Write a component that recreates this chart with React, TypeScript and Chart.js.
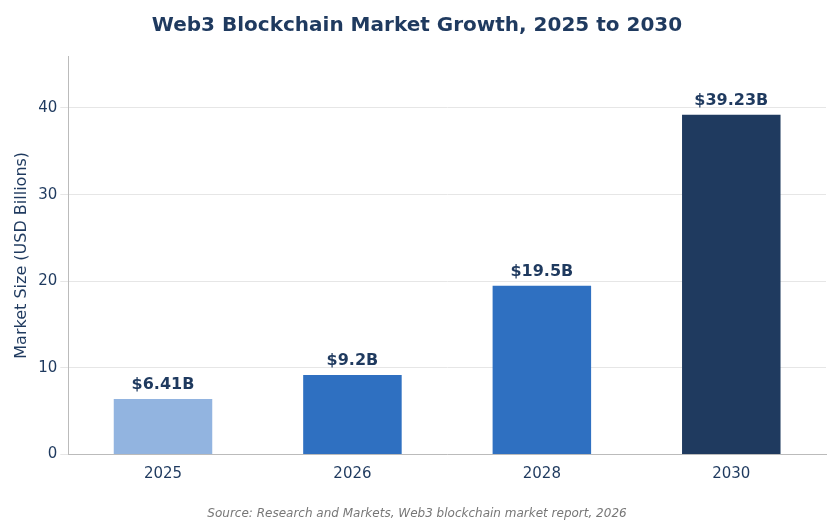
import React, { useEffect, useRef } from "react";
import { Chart, registerables } from "chart.js";
Chart.register(...registerables);

const categories = ["2025", "2026", "2028", "2030"];
const values = [6.41, 9.2, 19.5, 39.23];
const labels = ["$6.41B", "$9.2B", "$19.5B", "$39.23B"];
const colors = ["#92b4e0", "#2f70c1", "#2f70c1", "#1f3a5f"];

const FONT = "'DejaVu Sans', sans-serif";
const DARK = "#1f3a5f";

const labelPlugin = {
  id: "barLabels",
  afterDatasetsDraw(chart: any) {
    const ctx = chart.ctx;
    const meta = chart.getDatasetMeta(0);
    ctx.save();
    ctx.font = `bold 16px ${FONT}`;
    ctx.fillStyle = DARK;
    ctx.textAlign = "center";
    ctx.textBaseline = "bottom";
    meta.data.forEach((bar: any, i: number) => {
      ctx.fillText(labels[i], bar.x, bar.y - 6);
    });
    ctx.restore();
  },
};

export default function App() {
  const ref = useRef<HTMLCanvasElement>(null);
  useEffect(() => {
    document.body.style.margin = "0";
    const chart = new Chart(ref.current!, {
      type: "bar",
      data: {
        labels: categories,
        datasets: [{ data: values, backgroundColor: colors, barPercentage: 0.52, categoryPercentage: 1 }],
      },
      options: {
        animation: false,
        responsive: false,
        layout: { padding: { left: 8, right: 14, top: 4, bottom: 2 } },
        plugins: {
          legend: { display: false },
          tooltip: { enabled: false },
          title: {
            display: true,
            text: "Web3 Blockchain Market Growth, 2025 to 2030",
            color: DARK,
            font: { family: FONT, size: 20, weight: "bold" },
            padding: { top: 10, bottom: 18 },
          },
          subtitle: {
            display: true,
            position: "bottom",
            text: "Source: Research and Markets, Web3 blockchain market report, 2026",
            color: "#777777",
            font: { family: FONT, size: 12, style: "italic" },
            padding: { top: 20, bottom: 2 },
          },
        },
        scales: {
          x: {
            grid: { display: false },
            border: { color: "#bbbbbb" },
            ticks: { color: DARK, font: { family: FONT, size: 15 } },
          },
          y: {
            min: 0,
            max: 46,
            border: { color: "#bbbbbb" },
            grid: {
              color: (c: any) => (c.tick && c.tick.value % 10 === 0 ? "#e6e6e6" : "transparent"),
            },
            ticks: {
              stepSize: 10,
              color: DARK,
              font: { family: FONT, size: 15 },
              callback: (v: any) => (v % 10 === 0 ? v : ""),
            },
            title: {
              display: true,
              text: "Market Size (USD Billions)",
              color: DARK,
              font: { family: FONT, size: 16 },
            },
          },
        },
      },
      plugins: [labelPlugin],
    });
    return () => chart.destroy();
  }, []);
  return <canvas ref={ref} width={840} height={525} />;
}
